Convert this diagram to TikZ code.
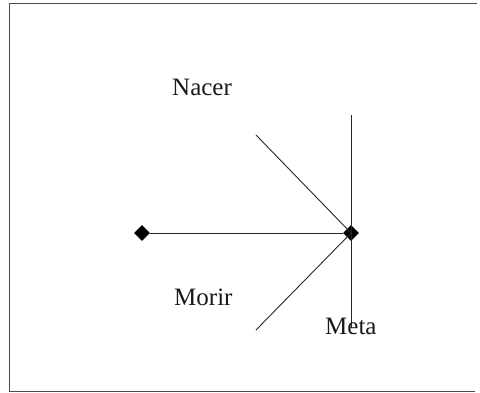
\documentclass[tikz,border=0pt]{standalone}
\usepackage{fontspec}
\setmainfont{Liberation Serif}
\usetikzlibrary{shapes.geometric}

\begin{document}
\begin{tikzpicture}[
		x=1pt, y=-1pt,
		font=\fontsize{25}{29}\selectfont,
		frame/.style={draw=black!70, line width=0.8pt},
		ray/.style={draw=black!85, line width=0.9pt},
		mark node/.style={diamond, fill=black, inner sep=0pt, minimum size=16pt},
		lab/.style={anchor=base west, inner sep=0pt, text=black!90}
		]
		\useasboundingbox (0,0) rectangle (480,392);
		
		% Frame (open on the right)
		\draw[frame] (477,3) -- (9,3) -- (9,391) -- (475,391);
		
		% Points
		\node[mark node] (start) at (142,233) {};
		\node[mark node] (meta) at (351,233) {};
		
		% Free ends
		\coordinate (top) at (351,115);
		\coordinate (bottom) at (351,328);
		\coordinate (up) at (256,135);
		\coordinate (down) at (256,330);
		
		% Lines
		\draw[ray] (start) -- (meta);
		\draw[ray] (top) -- (bottom);
		\draw[ray] (up) -- (meta.center);
		\draw[ray] (meta.center) -- (down);
		
		% Labels
		\node[lab] (nacer) at (172,95) {Nacer};
		\node[lab] (morir) at (174,305) {Morir};
		\node[lab] (metalab) at (325,334) {Meta};
		
	\end{tikzpicture}
\end{document}
